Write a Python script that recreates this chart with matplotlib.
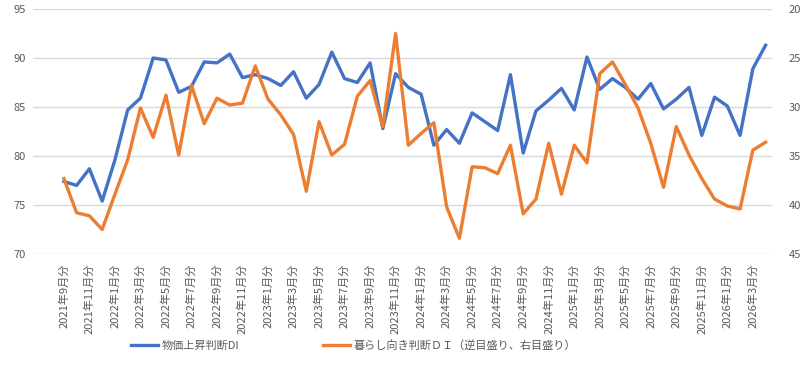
import matplotlib.pyplot as plt

plt.rcParams['font.family'] = ['Noto Sans CJK JP', 'DejaVu Sans']

# months 2021-09 .. 2026-04
months = []
y, m = 2021, 9
for _ in range(56):
    months.append(f"{y}年{m}月分")
    m += 1
    if m > 12:
        y, m = y + 1, 1

# 物価上昇判断DI (left axis)
price_di = [77.4, 77.0, 78.7, 75.4, 79.6, 84.7, 85.9, 90.0, 89.8, 86.5,
            87.1, 89.6, 89.5, 90.4, 88.0, 88.3, 87.9, 87.2, 88.6, 85.9,
            87.3, 90.6, 87.9, 87.5, 89.5, 82.8, 88.4, 87.0, 86.3, 81.1,
            82.7, 81.3, 84.4, 83.5, 82.6, 88.3, 80.3, 84.6, 85.7, 86.9,
            84.7, 90.1, 86.8, 87.9, 87.0, 85.8, 87.4, 84.8, 85.8, 87.0,
            82.1, 86.0, 85.1, 82.1, 88.9, 91.3]

# 暮らし向き判断DI (right axis, inverted)
living_di = [37.3, 40.8, 41.1, 42.5, 38.9, 35.4, 30.1, 33.1, 28.8, 34.9,
             27.8, 31.7, 29.1, 29.8, 29.6, 25.8, 29.2, 30.8, 32.8, 38.6,
             31.5, 34.9, 33.8, 28.9, 27.3, 32.0, 22.5, 33.9, 32.7, 31.6,
             40.2, 43.4, 36.1, 36.2, 36.8, 33.9, 40.9, 39.4, 33.7, 38.9,
             33.9, 35.7, 26.6, 25.4, 27.7, 30.1, 33.7, 38.2, 32.0, 34.9,
             37.3, 39.4, 40.1, 40.4, 34.4, 33.6]

blue = '#4472C4'
orange = '#ED7D31'
txt = '#595959'

fig = plt.figure(figsize=(8.02, 3.80), dpi=100)
ax = fig.add_axes([0.041, 0.3316, 0.9214, 0.6447])
ax2 = ax.twinx()

x = list(range(len(months)))
l1, = ax.plot(x, price_di, color=blue, lw=2.4, solid_joinstyle='round')
l2, = ax2.plot(x, living_di, color=orange, lw=2.4, solid_joinstyle='round')

ax.set_ylim(70, 95)
ax.set_yticks([70, 75, 80, 85, 90, 95])
ax2.set_ylim(45, 20)
ax2.set_yticks([20, 25, 30, 35, 40, 45])
ax.set_xlim(-2.43, 55.49)

ax.set_xticks(x[::2])
ax.set_xticklabels(months[::2], rotation=90, fontsize=8, color=txt)
ax.grid(axis='y', color='#D9D9D9', lw=1)
ax.set_axisbelow(True)

for a in (ax, ax2):
    for s in a.spines.values():
        s.set_visible(False)
ax.tick_params(axis='x', length=0, pad=7)
ax.tick_params(axis='y', length=0, pad=5, labelsize=8, labelcolor=txt)
ax2.tick_params(axis='y', length=0, pad=12, labelsize=8, labelcolor=txt)

fig.legend([l1, l2], ['物価上昇判断DI', '暮らし向き判断ＤＩ（逆目盛り、右目盛り）'],
           loc='center', bbox_to_anchor=(0.441, 1 - 345 / 380), ncol=2,
           frameon=False, fontsize=8, labelcolor=txt, handlelength=2.4,
           handletextpad=0.3, columnspacing=7.6)

fig.savefig('out.png', dpi=100)
